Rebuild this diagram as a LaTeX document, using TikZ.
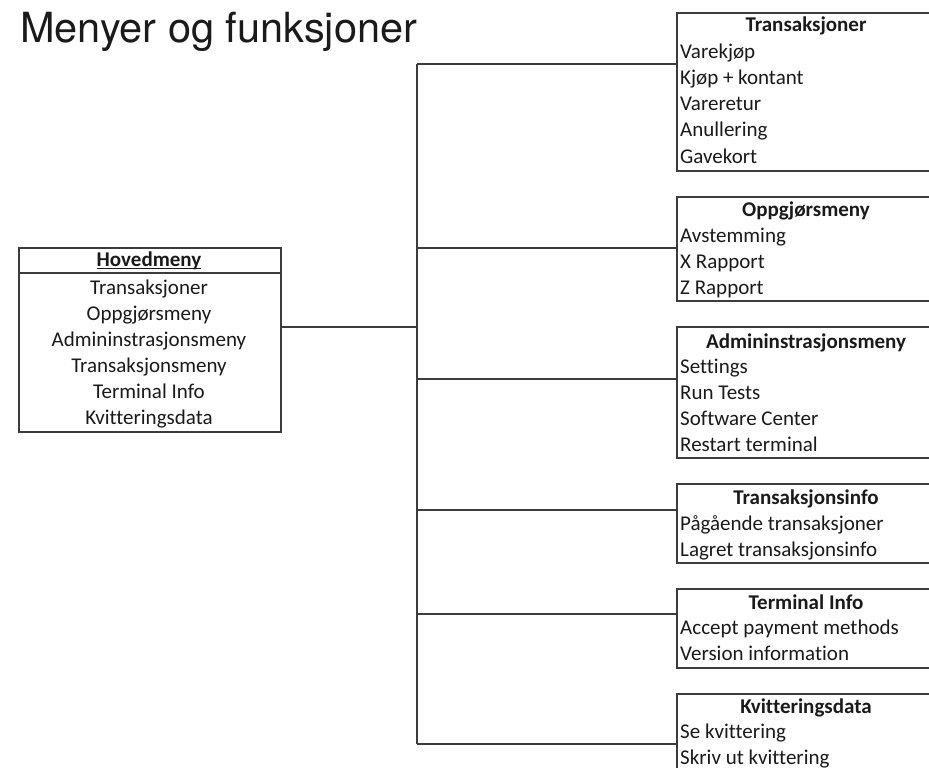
\documentclass[tikz,border=0pt]{standalone}
\usepackage{fontspec}
\setmainfont{Carlito}[Ligatures=NoCommon]
\newfontfamily\titlefont{TeX Gyre Heros}
\definecolor{linegray}{HTML}{3C3C3C}
\definecolor{inkc}{HTML}{1A1A1A}
\tikzset{
  menubox/.style={draw=linegray, line width=1.6pt, rectangle, inner sep=0pt, anchor=north west},
  conn/.style={draw=linegray, line width=1.6pt},
  itemtext/.style={inner sep=0pt, anchor=base west, text=inkc, font=\fontsize{21}{24}\selectfont},
  centertext/.style={inner sep=0pt, anchor=base, text=inkc, font=\fontsize{21}{24}\selectfont},
  headtext/.style={inner sep=0pt, anchor=base, text=inkc, font=\fontsize{21}{24}\selectfont\bfseries},
}
\begin{document}
\begin{tikzpicture}[x=1pt,y=-1pt]
\useasboundingbox (0,0) rectangle (929,768);
\clip (0,0) rectangle (929,768);
\fill[white] (0,0) rectangle (929,768);

% title
\node[inner sep=0pt, anchor=base west, text=inkc, font=\titlefont\fontsize{41.5}{44}\selectfont] (title) at (20,43) {Menyer og funksjoner};

% main menu
\node[menubox, minimum width=262pt, minimum height=184pt] (hov) at (18,247) {};
\draw[conn] (18,273) -- (280,273);
\node[headtext] (hovh) at (149,266) {Hovedmeny};
\draw[draw=inkc, line width=1.1pt] (hovh.base west) ++(0,2.5) -- ([yshift=-2.5pt]hovh.base east);
\foreach \t [count=\i] in {Transaksjoner,Oppgjørsmeny,Admininstrasjonsmeny,Transaksjonsmeny,Terminal Info,Kvitteringsdata}
  \node[centertext] (hov-\i) at (149,{268+26*\i}) {\t};

% submenu boxes
\node[menubox, minimum width=262pt, minimum height=158pt] (b1) at (676,12) {};
\node[menubox, minimum width=262pt, minimum height=104pt] (b2) at (676,196) {};
\node[menubox, minimum width=262pt, minimum height=131pt] (b3) at (676,326) {};
\node[menubox, minimum width=262pt, minimum height=79pt] (b4) at (676,483) {};
\node[menubox, minimum width=262pt, minimum height=79pt] (b5) at (676,588) {};
\node[menubox, minimum width=262pt, minimum height=90pt] (b6) at (676,693) {};

\node[headtext] (b1h) at (806,32) {Transaksjoner};
\foreach \t [count=\i] in {Varekjøp,Kjøp + kontant,Vareretur,Anullering,Gavekort}
  \node[itemtext] (b1-\i) at (680,{32+26.2*\i}) {\t};

\node[headtext] (b2h) at (806,216) {Oppgjørsmeny};
\foreach \t [count=\i] in {Avstemming,X Rapport,Z Rapport}
  \node[itemtext] (b2-\i) at (680,{216+26*\i}) {\t};

\node[headtext] (b3h) at (806,348) {Admininstrasjonsmeny};
\foreach \t [count=\i] in {Settings,Run Tests,Software Center,Restart terminal}
  \node[itemtext] (b3-\i) at (680,{348+25.8*\i}) {\t};

\node[headtext] (b4h) at (806,504) {Transaksjonsinfo};
\foreach \t [count=\i] in {Pågående transaksjoner,Lagret transaksjonsinfo}
  \node[itemtext] (b4-\i) at (680,{504+26*\i}) {\t};

\node[headtext] (b5h) at (806,609) {Terminal Info};
\foreach \t [count=\i] in {Accept payment methods,Version information}
  \node[itemtext] (b5-\i) at (680,{609+25.5*\i}) {\t};

\node[headtext] (b6h) at (806,713) {Kvitteringsdata};
\foreach \t [count=\i] in {Se kvittering,Skriv ut kvittering}
  \node[itemtext] (b6-\i) at (680,{713+25.5*\i}) {\t};

% connectors
\coordinate (j0) at (417,327);
\coordinate (c1) at (417,64);
\coordinate (c2) at (417,248);
\coordinate (c3) at (417,379);
\coordinate (c4) at (417,510);
\coordinate (c5) at (417,614);
\coordinate (c6) at (417,744);
\draw[conn] (hov.east |- j0) -- (j0);
\draw[conn] (c1) -- (c6);
\draw[conn] (c1) -- (b1.west |- c1);
\draw[conn] (c2) -- (b2.west |- c2);
\draw[conn] (c3) -- (b3.west |- c3);
\draw[conn] (c4) -- (b4.west |- c4);
\draw[conn] (c5) -- (b5.west |- c5);
\draw[conn] (c6) -- (b6.west |- c6);
\end{tikzpicture}
\end{document}
